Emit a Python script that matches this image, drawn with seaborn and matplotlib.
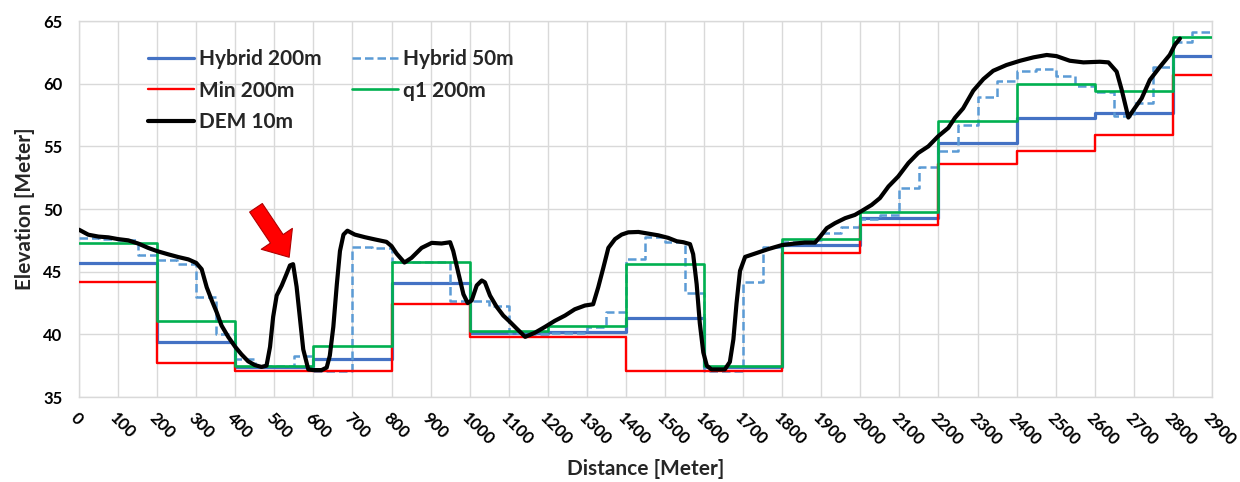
import numpy as np
import pandas as pd
import matplotlib
matplotlib.use("Agg")
import matplotlib.pyplot as plt
import seaborn as sns

# --- Profile data -----------------------------------------------------------
# 200 m aggregated surfaces (value of each 200 m block, starting at 0 m)
block200_start = [0, 200, 400, 600, 800, 1000, 1200, 1400, 1600, 1800,
                  2000, 2200, 2400, 2600, 2800]
hybrid_200 = [45.7, 39.4, 37.4, 38.0, 44.1, 40.1, 40.2, 41.3, 37.4, 47.1,
              49.3, 55.3, 57.3, 57.7, 62.2]
min_200 = [44.2, 37.7, 37.1, 37.1, 42.4, 39.8, 39.8, 37.1, 37.1, 46.5,
           48.7, 53.6, 54.6, 55.9, 60.7]
q1_200 = [47.3, 41.1, 37.5, 39.1, 45.8, 40.3, 40.7, 45.6, 37.5, 47.6,
          49.8, 57.0, 60.0, 59.4, 63.7]

# 50 m hybrid surface (value of each 50 m block, starting at 0 m)
block50_start = list(range(0, 2900, 50))
hybrid_50 = [47.7, 47.6, 47.5, 46.3, 45.9, 45.6, 43.0, 40.0, 38.0, 37.5,
             37.5, 38.3, 37.1, 37.1, 47.0, 46.9, 45.8, 45.8, 45.8, 42.7,
             42.7, 42.3, 40.1, 40.0, 40.1, 40.1, 40.6, 41.8, 46.0, 47.8,
             47.4, 43.3, 37.1, 37.1, 44.2, 47.0, 47.4, 47.5, 48.1, 48.6,
             49.2, 49.5, 51.7, 53.35, 54.6, 56.7, 58.9, 60.25, 61.0, 61.2,
             60.6, 59.85, 59.35, 57.4, 58.45, 61.3, 63.3, 64.1]

# 10 m DEM profile
dem_dist = [0, 24, 50, 75, 100, 126, 152, 177, 200, 229, 254, 280, 300, 314,
            327, 340, 352, 365, 382, 400, 416, 433, 450, 467, 480, 489, 497,
            506, 519, 531, 540, 548, 557, 566, 574, 587, 600, 621, 634, 642,
            651, 660, 668, 677, 687, 706, 732, 758, 787, 800, 813, 833, 851,
            877, 903, 928, 950, 958, 971, 984, 995, 1005, 1018, 1031, 1039,
            1052, 1069, 1086, 1103, 1120, 1142, 1167, 1193, 1218, 1244, 1269,
            1295, 1316, 1329, 1342, 1355, 1372, 1389, 1406, 1432, 1457, 1483,
            1508, 1530, 1547, 1564, 1572, 1581, 1589, 1598, 1607, 1619, 1653,
            1666, 1675, 1683, 1692, 1705, 1730, 1764, 1799, 1833, 1858, 1884,
            1897, 1914, 1935, 1961, 1986, 2008, 2029, 2050, 2072, 2097, 2123,
            2148, 2174, 2199, 2225, 2242, 2263, 2289, 2315, 2340, 2374, 2409,
            2443, 2477, 2502, 2536, 2571, 2613, 2635, 2656, 2669, 2686, 2699,
            2720, 2741, 2767, 2792, 2805, 2818]
dem_elev = [48.35, 47.95, 47.8, 47.74, 47.6, 47.5, 47.24, 46.9, 46.64, 46.38,
            46.17, 45.98, 45.7, 45.2, 43.75, 42.7, 41.8, 40.7, 39.8, 39.0,
            38.4, 37.85, 37.55, 37.4, 37.5, 39.0, 41.4, 43.1, 43.9, 44.8,
            45.5, 45.6, 43.8, 41.15, 38.8, 37.2, 37.15, 37.15, 37.35, 38.3,
            40.6, 44.0, 46.65, 47.96, 48.27, 47.96, 47.75, 47.57, 47.38,
            47.04, 46.44, 45.73, 46.1, 46.9, 47.3, 47.25, 47.35, 46.64, 44.9,
            43.2, 42.5, 42.7, 43.9, 44.3, 44.15, 43.1, 42.2, 41.5, 41.0,
            40.47, 39.8, 40.13, 40.6, 41.08, 41.5, 42.0, 42.3, 42.4, 43.75,
            45.3, 46.9, 47.6, 47.96, 48.14, 48.17, 48.04, 47.9, 47.7, 47.43,
            47.35, 47.2, 46.4, 44.0, 40.9, 38.56, 37.5, 37.2, 37.2, 37.8,
            39.6, 42.46, 45.07, 46.18, 46.44, 46.8, 47.12, 47.25, 47.32,
            47.32, 47.8, 48.47, 48.87, 49.27, 49.53, 49.93, 50.33, 50.87,
            51.8, 52.6, 53.67, 54.47, 55.0, 55.8, 56.47, 57.27, 58.03, 59.44,
            60.37, 61.03, 61.49, 61.83, 62.1, 62.29, 62.2, 61.83, 61.7, 61.75,
            61.7, 60.96, 59.5, 57.3, 57.9, 58.83, 60.3, 61.35, 62.3, 63.1,
            63.6]

profile_end = 2900
x_ticks = list(range(0, 3000, 100))
y_ticks = [35, 40, 45, 50, 55, 60, 65]


def step_frame(starts, values, end):
    """Block values as a step series closed at the profile end."""
    return pd.DataFrame({"dist": list(starts) + [end],
                         "elev": list(values) + [values[-1]]})


# --- Styling ----------------------------------------------------------------
sns.set_theme(style="whitegrid")
plt.rcParams["font.family"] = ["Lato", "DejaVu Sans"]
plt.rcParams["font.weight"] = "bold"

fig = plt.figure(figsize=(12.4, 4.82), dpi=100)
ax = fig.add_axes([0.0637, 0.1763, 0.9137, 0.7801])
ax.set_facecolor("white")

series = [
    ("Hybrid 200m", step_frame(block200_start, hybrid_200, profile_end),
     dict(color="#4472C4", lw=2.3, linestyle="-")),
    ("Hybrid 50m", step_frame(block50_start, hybrid_50, profile_end),
     dict(color="#5B9BD5", lw=1.8, linestyle=(0, (3.4, 1.6)))),
    ("Min 200m", step_frame(block200_start, min_200, profile_end),
     dict(color="#FF0000", lw=1.7, linestyle="-")),
    ("q1 200m", step_frame(block200_start, q1_200, profile_end),
     dict(color="#00B050", lw=1.9, linestyle="-")),
]

handles = {}
for z, (name, df, style) in enumerate(series):
    sns.lineplot(data=df, x="dist", y="elev", ax=ax, estimator=None,
                 sort=False, drawstyle="steps-post", label=name,
                 zorder=3 + z, **style)
    handles[name] = ax.get_lines()[-1]

dem_df = pd.DataFrame({"dist": dem_dist, "elev": dem_elev})
sns.lineplot(data=dem_df, x="dist", y="elev", ax=ax, estimator=None,
             sort=False, color="black", lw=3.0, label="DEM 10m", zorder=8,
             solid_joinstyle="round", solid_capstyle="round")
handles["DEM 10m"] = ax.get_lines()[-1]

# Arrow pointing at the narrow ridge in the DEM near 550 m
ridge = dem_df[(dem_df.dist > 450) & (dem_df.dist < 600)]
peak = ridge.loc[ridge.elev.idxmax()]
ax.annotate("", xy=(peak.dist - 10, peak.elev + 0.55),
            xytext=(peak.dist - 95, peak.elev + 4.5),
            arrowprops=dict(arrowstyle="simple,head_length=0.8,"
                                       "head_width=1.35,tail_width=0.55",
                            fc="#FF0000", ec="#B00000", lw=0.8,
                            mutation_scale=20, shrinkA=0, shrinkB=0),
            zorder=9)

# Axes, ticks and grid
ax.set_xlim(0, profile_end)
ax.set_ylim(35, 65)
ax.set_xticks(x_ticks)
ax.set_yticks(y_ticks)
ax.grid(True, color="#d9d9d9", lw=1.0)
for side, sp in ax.spines.items():
    sp.set_visible(True)
    sp.set_color("#d9d9d9")
    sp.set_linewidth(1.0)
ax.tick_params(axis="both", length=0, labelsize=12, colors="black")
ax.tick_params(axis="y", pad=12)
ax.tick_params(axis="x", pad=9)
for lab in ax.get_xticklabels():
    lab.set_rotation(-45)
    lab.set_ha("left")
    lab.set_va("top")
    lab.set_rotation_mode("anchor")
    lab.set_fontweight("bold")
for lab in ax.get_yticklabels():
    lab.set_fontweight("bold")

ax.set_xlabel("Distance [Meter]", fontsize=15, fontweight="bold", labelpad=8)
ax.set_ylabel("Elevation [Meter]", fontsize=15, fontweight="bold", labelpad=6)

# Legend laid out in two columns, row by row
order = ["Hybrid 200m", "Min 200m", "DEM 10m", "Hybrid 50m", "q1 200m"]
ax.legend([handles[n] for n in order], order, ncol=2, loc="upper left",
          bbox_to_anchor=(0.061, 0.925), frameon=False,
          handlelength=2.2, handletextpad=0.25, columnspacing=1.45,
          labelspacing=0.55, borderpad=0, borderaxespad=0,
          prop={"weight": "bold", "size": 15})

fig.savefig("out.png", dpi=100, facecolor="white")
